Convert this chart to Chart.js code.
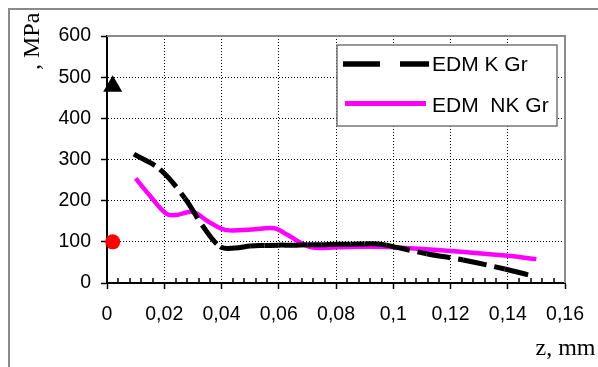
<!DOCTYPE html>
<html>
<head>
<meta charset="utf-8">
<script src="https://cdn.jsdelivr.net/npm/chart.js@4.4.1/dist/chart.umd.min.js"></script>
<style>
  html, body { margin: 0; padding: 0; background: #fff; overflow: hidden; }
  #wrap { position: relative; width: 598px; height: 367px; overflow: hidden; }
  #frame { position: absolute; left: 8px; top: 8px; width: 700px; height: 500px;
           border-left: 2px solid #8a8a8a; border-top: 2px solid #8a8a8a; }
  canvas { position: absolute; left: 0; top: 0; }
</style>
</head>
<body>
<div id="wrap">
  <div id="frame"></div>
  <canvas id="chart" width="598" height="367"></canvas>
</div>
<script>
// values (z in mm, stress in MPa)
const kGrZ = [0.0094, 0.0185, 0.0272, 0.0332, 0.0396, 0.0447, 0.05, 0.055, 0.06, 0.065, 0.07, 0.075, 0.08, 0.085, 0.09, 0.0947, 0.0976, 0.1117, 0.1244, 0.139, 0.1476];
const kGrStress = [313, 276, 206, 141, 88, 85, 90, 91, 92, 92, 93, 93, 94, 94, 95, 95, 92, 71, 56, 34, 19];

const nkGrZ = [0.01, 0.015, 0.0206, 0.024, 0.0298, 0.0355, 0.0413, 0.0505, 0.0585, 0.063, 0.0711, 0.0803, 0.09, 0.1, 0.12, 0.14, 0.15];
const nkGrStress = [254, 212, 169, 165, 173, 149, 129, 130, 133, 117, 87, 87, 88, 87, 78, 66, 58];

const triangleZ = [0.002];
const triangleStress = [478];
const circleZ = [0.002];
const circleStress = [100];

const seriesNames = ['EDM K Gr', 'EDM  NK Gr'];
const xTickLabels = ['0', '0,02', '0,04', '0,06', '0,08', '0,1', '0,12', '0,14', '0,16'];
const yTickLabels = ['0', '100', '200', '300', '400', '500', '600'];
const xTitle = 'z, mm';
const yTitle = ', MPa';

function pairs(xs, ys) {
  return xs.map((x, i) => ({ x: x, y: ys[i] }));
}

const SANS = '"Liberation Sans", Arial, sans-serif';
const SERIF = '"Liberation Serif", "Times New Roman", serif';
const MINOR_STEP = 0.004;

// plot frame (top/right), minor x ticks
const frameLines = {
  id: 'frameLines',
  beforeDatasetsDraw(chart) {
    const { ctx, chartArea: a } = chart;
    ctx.save();
    ctx.strokeStyle = '#8a8a8a';
    ctx.lineWidth = 2;
    ctx.beginPath();
    ctx.moveTo(a.left, a.top);
    ctx.lineTo(a.right, a.top);
    ctx.lineTo(a.right, a.bottom);
    ctx.stroke();

    const xs = chart.scales.x;
    ctx.strokeStyle = '#000';
    ctx.lineWidth = 1.5;
    const n = Math.round((xs.max - xs.min) / MINOR_STEP);
    for (let i = 1; i < n; i++) {
      if (i % 5 === 0) continue;
      const px = Math.round(xs.getPixelForValue(xs.min + i * MINOR_STEP));
      ctx.beginPath();
      ctx.moveTo(px, a.bottom);
      ctx.lineTo(px, a.bottom - 5);
      ctx.stroke();
    }
    ctx.restore();
  }
};

// axis titles + boxed legend
const extras = {
  id: 'extras',
  afterDraw(chart) {
    const ctx = chart.ctx;
    ctx.save();
    ctx.fillStyle = '#000';
    ctx.font = '24px ' + SERIF;
    ctx.textBaseline = 'alphabetic';
    ctx.textAlign = 'left';
    ctx.fillText(xTitle, 535.5, 355);

    ctx.save();
    ctx.translate(38.5, 70);
    ctx.rotate(-Math.PI / 2);
    ctx.fillText(yTitle, 0, 0);
    ctx.restore();

    // legend box
    ctx.fillStyle = '#fff';
    ctx.fillRect(337, 45, 220, 81);
    ctx.strokeStyle = '#777';
    ctx.lineWidth = 1.5;
    ctx.strokeRect(337, 45, 220, 81);

    const ds = chart.data.datasets;
    ctx.lineCap = 'butt';
    ctx.strokeStyle = ds[0].borderColor;
    ctx.lineWidth = 5.5;
    ctx.setLineDash([37, 20]);
    ctx.beginPath();
    ctx.moveTo(343, 64);
    ctx.lineTo(429, 64);
    ctx.stroke();

    ctx.setLineDash([]);
    ctx.strokeStyle = ds[1].borderColor;
    ctx.lineWidth = 5;
    ctx.beginPath();
    ctx.moveTo(345, 103.5);
    ctx.lineTo(426, 103.5);
    ctx.stroke();

    ctx.fillStyle = '#000';
    ctx.font = '21px ' + SANS;
    ctx.textBaseline = 'middle';
    ctx.fillText(ds[0].label, 432, 65);
    ctx.fillText(ds[1].label, 432, 106);
    ctx.restore();
  }
};

function axisOpts(labels, min, max, step, pad, fit) {
  return {
    type: 'linear',
    min: min,
    max: max,
    ticks: {
      stepSize: step,
      autoSkip: false,
      maxRotation: 0,
      color: '#000',
      padding: pad,
      font: { family: SANS, size: 19.5 },
      callback: (v, i) => labels[i]
    },
    grid: {
      color: '#000',
      lineWidth: 1,
      drawTicks: true,
      tickLength: 6,
      tickColor: '#000',
      tickWidth: 1.5
    },
    border: { display: true, color: '#000', width: 2, dash: [1, 2] },
    afterFit: fit
  };
}

new Chart(document.getElementById('chart').getContext('2d'), {
  type: 'line',
  data: {
    datasets: [
      {
        label: seriesNames[0],
        data: pairs(kGrZ, kGrStress),
        borderColor: '#000',
        borderWidth: 5,
        borderDash: [24, 8],
        borderCapStyle: 'butt',
        tension: 0.35,
        pointRadius: 0,
        fill: false,
        // restart the dash on every segment, like the original plot
        segment: { borderDashOffset: c => (c.p0DataIndex % 2) * 0.001 }
      },
      {
        label: seriesNames[1],
        data: pairs(nkGrZ, nkGrStress),
        borderColor: '#ff00ff',
        borderWidth: 4.5,
        tension: 0.35,
        pointRadius: 0,
        fill: false
      },
      {
        label: 'triangle',
        data: pairs(triangleZ, triangleStress),
        showLine: false,
        pointStyle: 'triangle',
        pointRadius: 11,
        pointBackgroundColor: '#000',
        pointBorderWidth: 0,
        clip: false
      },
      {
        label: 'circle',
        data: pairs(circleZ, circleStress),
        showLine: false,
        pointStyle: 'circle',
        pointRadius: 7.5,
        pointBackgroundColor: '#ff0000',
        pointBorderWidth: 0,
        clip: false
      }
    ]
  },
  options: {
    responsive: false,
    animation: false,
    events: [],
    layout: { padding: { left: 0, top: 36, right: 27, bottom: 0 } },
    plugins: {
      legend: { display: false },
      tooltip: { enabled: false }
    },
    scales: {
      x: axisOpts(xTickLabels, 0, 0.16, 0.02, 14, s => { s.height = 84; }),
      y: axisOpts(yTickLabels, 0, 600, 100, 10, s => { s.width = 107; })
    }
  },
  plugins: [frameLines, extras]
});
</script>
</body>
</html>
